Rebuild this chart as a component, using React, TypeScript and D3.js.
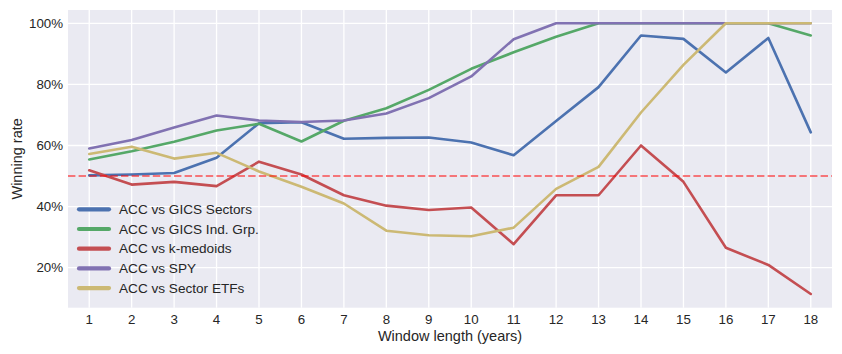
import React from "react";
import * as d3 from "d3";

const windows = [1, 2, 3, 4, 5, 6, 7, 8, 9, 10, 11, 12, 13, 14, 15, 16, 17, 18];
const seriesNames = [
  "ACC vs GICS Sectors",
  "ACC vs GICS Ind. Grp.",
  "ACC vs k-medoids",
  "ACC vs SPY",
  "ACC vs Sector ETFs",
];
const gicsSectors = [50.2, 50.5, 51.0, 56.0, 67.3, 67.6, 62.2, 62.5, 62.6, 61.0, 56.8, 68.0, 79.1, 96.0, 94.9, 83.9, 95.2, 64.3];
const gicsIndGrp = [55.4, 58.1, 61.2, 64.9, 67.1, 61.3, 68.1, 72.2, 78.2, 85.1, 90.5, 95.6, 100, 100, 100, 100, 100, 96.0];
const kMedoids = [51.9, 47.2, 48.1, 46.7, 54.7, 50.5, 43.7, 40.3, 38.9, 39.7, 27.7, 43.7, 43.7, 60.0, 48.1, 26.5, 20.9, 11.4];
const spy = [59.0, 61.8, 65.9, 69.8, 68.2, 67.7, 68.2, 70.5, 75.5, 82.6, 94.8, 100, 100, 100, 100, 100, 100, 100];
const sectorEtfs = [57.2, 59.6, 55.7, 57.6, 51.5, 46.5, 41.0, 32.1, 30.6, 30.3, 33.1, 45.8, 53.0, 70.8, 86.4, 100, 100, 100];
const seriesValues = [gicsSectors, gicsIndGrp, kMedoids, spy, sectorEtfs];
const seriesColors = ["#4C72B0", "#55A868", "#C44E52", "#8172B2", "#CCB974"];
const yTicks = [20, 40, 60, 80, 100];
const threshold = 50;

export default function App() {
  const W = 842, H = 354;
  const left = 68, right = 832, top = 10, bottom = 307.7;
  const x = d3.scaleLinear().domain([0.5, 18.5]).range([left, right]);
  const y = d3.scaleLinear().domain([6.9, 104.35]).range([bottom, top]);
  const line = d3.line<number>().x((_, i) => x(windows[i])).y((v) => y(v));
  const font = "'Liberation Sans', Arial, sans-serif";
  const legendY0 = 209.3, legendDy = 19.7;

  return (
    <svg width={W} height={H} style={{ position: "absolute", left: 0, top: 0 }} fontFamily={font}>
      <rect x={0} y={0} width={W} height={H} fill="#ffffff" />
      <rect x={left} y={top} width={right - left} height={bottom - top} fill="#EAEAF2" />
      {windows.map((w) => (
        <line key={"gx" + w} x1={x(w)} x2={x(w)} y1={top} y2={bottom} stroke="#fff" strokeWidth={1.3} />
      ))}
      {yTicks.map((t) => (
        <line key={"gy" + t} x1={left} x2={right} y1={y(t)} y2={y(t)} stroke="#fff" strokeWidth={1.3} />
      ))}
      {seriesValues.map((vals, i) => (
        <path key={"s" + i} d={line(vals) || ""} fill="none" stroke={seriesColors[i]} strokeWidth={2.6} strokeLinejoin="round" strokeLinecap="round" />
      ))}
      <line x1={left} x2={right} y1={y(threshold)} y2={y(threshold)} stroke="red" strokeOpacity={0.5} strokeWidth={2} strokeDasharray="7.4 3.2" />
      {yTicks.map((t) => (
        <text key={"ty" + t} x={63} y={y(t)} dy="0.35em" textAnchor="end" fontSize={13.3} fill="#262626">
          {t + "%"}
        </text>
      ))}
      {windows.map((w) => (
        <text key={"tx" + w} x={x(w)} y={324} textAnchor="middle" fontSize={13.3} fill="#262626">
          {w}
        </text>
      ))}
      <text x={(left + right) / 2} y={341} textAnchor="middle" fontSize={14.5} fill="#262626">
        Window length (years)
      </text>
      <text transform={`translate(21.5, ${(top + bottom) / 2}) rotate(-90)`} textAnchor="middle" fontSize={14.5} fill="#262626">
        Winning rate
      </text>
      {seriesNames.map((n, i) => (
        <g key={"lg" + i}>
          <line x1={79} x2={109} y1={legendY0 + i * legendDy} y2={legendY0 + i * legendDy} stroke={seriesColors[i]} strokeWidth={4.2} strokeLinecap="round" />
          <text x={119} y={legendY0 + i * legendDy} dy="0.35em" fontSize={13.6} fill="#262626">
            {n}
          </text>
        </g>
      ))}
    </svg>
  );
}
